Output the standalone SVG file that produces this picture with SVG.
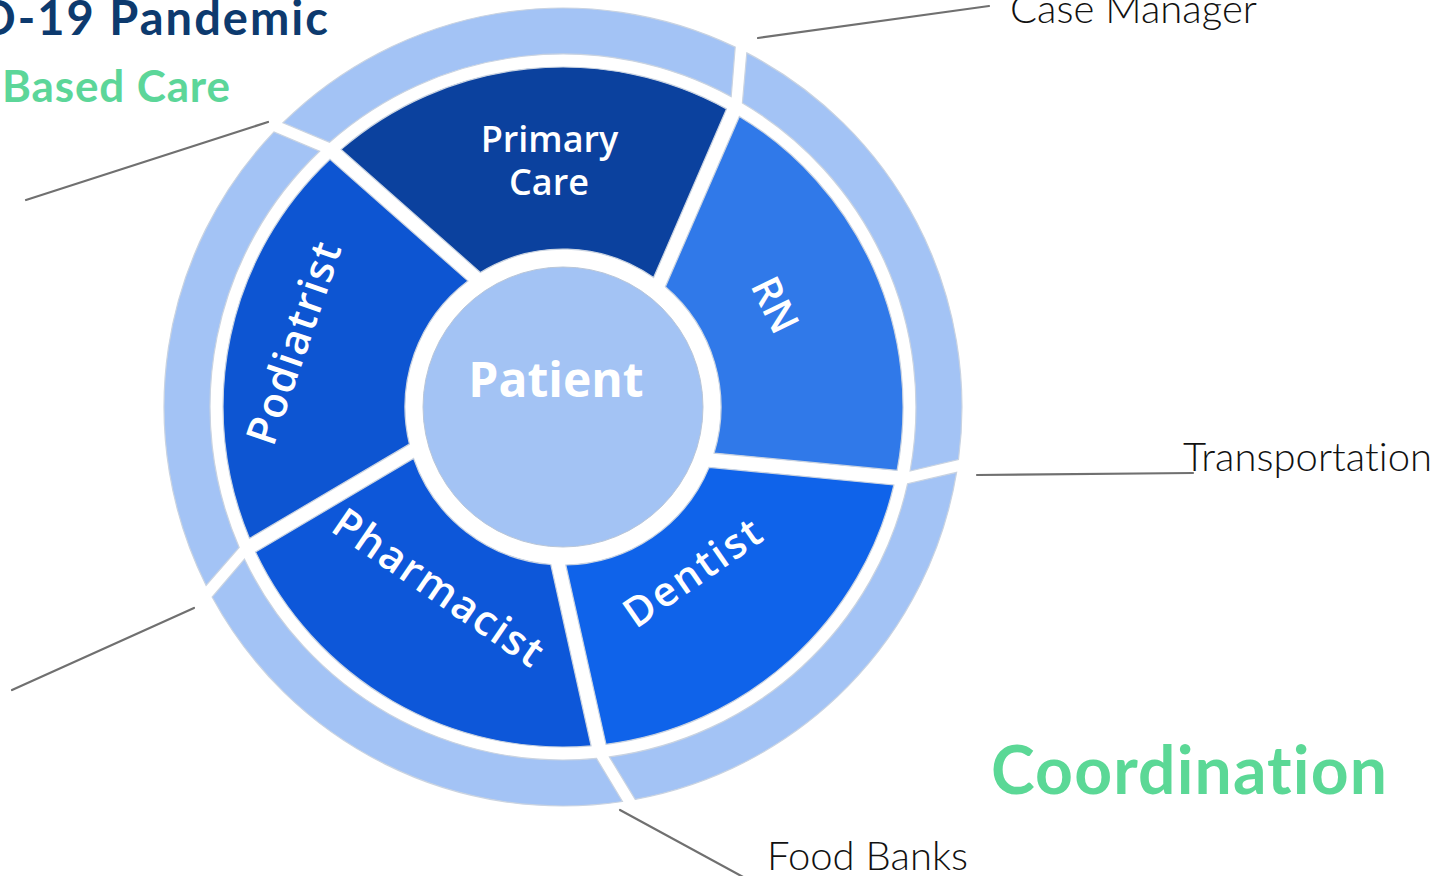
<svg xmlns="http://www.w3.org/2000/svg" width="1450" height="876" viewBox="0 0 1450 876">
  <style>
    text { font-variant-ligatures: none; font-feature-settings: "liga" 0, "dlig" 0; }
    .seg { stroke: #c9d3e1; stroke-width: 1.2; }
    .outer { fill: #a3c3f5; stroke: #c9d3e1; stroke-width: 1.2; }
    .lbl { font-family: "Open Sans", "Liberation Sans", sans-serif; font-weight: 600; fill: #ffffff; text-anchor: middle; }
    .ext { font-family: "Lato", "Open Sans", "Liberation Sans", sans-serif; font-weight: 300; font-size: 40px; fill: #111111; }
    .title { font-family: "Lato", "Open Sans", "Liberation Sans", sans-serif; font-weight: 700; }
    .conn { stroke: #707070; stroke-width: 2.2; fill: none; stroke-linecap: round; }
  </style>

  <rect width="1450" height="876" fill="#ffffff"/>

  <!-- headings -->
  <text class="title" x="-20" y="35" font-size="47" fill="#0d3a6e" textLength="348" lengthAdjust="spacing">D-19 Pandemic</text>
  <text class="title" x="2" y="102" font-size="44" fill="#5cd699" textLength="228" lengthAdjust="spacing">Based Care</text>
  <text class="title" x="991" y="794" font-size="66" fill="#5bd896" textLength="396" lengthAdjust="spacing">Coordination</text>

  <!-- outer ring of support services -->
  <g id="outer-ring-1">
    <path class="outer" d="M746.8,52.9 A399,399 0 0 1 958.5,459.5 L910.1,471.0 A353,353 0 0 0 742.4,103.0 Z"/>
  </g>
  <g id="outer-ring-2">
    <path class="outer" d="M956.6,472.4 A399,399 0 0 1 635.2,799.4 L609.4,756.9 A353,353 0 0 0 907.6,483.7 Z"/>
  </g>
  <g id="outer-ring-3">
    <path class="outer" d="M622.5,801.5 A399,399 0 0 1 212.1,597.0 L244.5,559.2 A353,353 0 0 0 596.5,758.4 Z"/>
  </g>
  <g id="outer-ring-4">
    <path class="outer" d="M206.1,585.4 A399,399 0 0 1 274.0,131.9 L319.6,151.3 A353,353 0 0 0 239.2,547.5 Z"/>
  </g>
  <g id="outer-ring-5">
    <path class="outer" d="M283.0,122.8 A399,399 0 0 1 735.2,47.1 L731.2,96.6 A353,353 0 0 0 329.5,142.3 Z"/>
  </g>

  <!-- care team ring -->
  <g id="primary-care">
    <path class="seg" fill="#0b419e" d="M341.1,149.4 A340,340 0 0 1 726.5,108.9 L653.6,277.6 A158,158 0 0 0 480.3,272.4 Z"/>
    <text class="lbl" x="549.5" y="152" font-size="36">Primary</text>
    <text class="lbl" x="549" y="195" font-size="36">Care</text>
  </g>
  <g id="rn">
    <path class="seg" fill="#3079e9" d="M739.4,116.4 A340,340 0 0 1 897.1,470.4 L714.1,453.1 A158,158 0 0 0 665.4,286.7 Z"/>
    <text class="lbl" font-size="40" transform="translate(775,305) rotate(64)" x="0" y="14">RN</text>
  </g>
  <g id="dentist">
    <path class="seg" fill="#0f63ea" d="M893.9,485.0 A340,340 0 0 1 606.0,744.3 L565.8,565.0 A158,158 0 0 0 709.1,467.3 Z"/>
    <text class="lbl" font-size="41" transform="translate(692,572) rotate(-34.8)" x="0" y="15" textLength="158" lengthAdjust="spacing">Dentist</text>
  </g>
  <g id="pharmacist">
    <path class="seg" fill="#0d57d9" d="M591.1,745.8 A340,340 0 0 1 255.5,552.1 L413.6,458.5 A158,158 0 0 0 550.8,564.5 Z"/>
    <text class="lbl" font-size="42" transform="translate(438.5,587) rotate(34.4)" x="0" y="15" textLength="245" lengthAdjust="spacing">Pharmacist</text>
  </g>
  <g id="podiatrist">
    <path class="seg" fill="#0d55d2" d="M249.5,538.4 A340,340 0 0 1 330.0,159.3 L467.9,280.9 A158,158 0 0 0 409.4,444.1 Z"/>
    <text class="lbl" font-size="42" transform="translate(293.5,343) rotate(-71)" x="0" y="15" textLength="211" lengthAdjust="spacing">Podiatrist</text>
  </g>

  <!-- centre -->
  <g id="patient">
    <circle cx="563" cy="407" r="140" fill="#a3c3f4" stroke="#b9c6d8" stroke-width="1"/>
    <text class="lbl" x="556" y="397" font-size="48" style="font-weight:700">Patient</text>
  </g>

  <!-- leader lines -->
  <g id="connectors">
    <line class="conn" x1="758" y1="38" x2="989" y2="6"/>
    <line class="conn" x1="977" y1="475" x2="1193" y2="473"/>
    <line class="conn" x1="620" y1="810" x2="745" y2="878"/>
    <line class="conn" x1="194" y1="608" x2="12" y2="690"/>
    <line class="conn" x1="268" y1="122" x2="26" y2="200"/>
  </g>

  <!-- service labels -->
  <g id="case-manager">
    <text class="ext" x="1010" y="23" textLength="247" lengthAdjust="spacing">Case Manager</text>
  </g>
  <g id="transportation">
    <text class="ext" x="1183" y="471" textLength="249" lengthAdjust="spacing">Transportation</text>
  </g>
  <g id="food-banks">
    <text class="ext" x="767" y="870" textLength="201" lengthAdjust="spacing">Food Banks</text>
  </g>
</svg>
